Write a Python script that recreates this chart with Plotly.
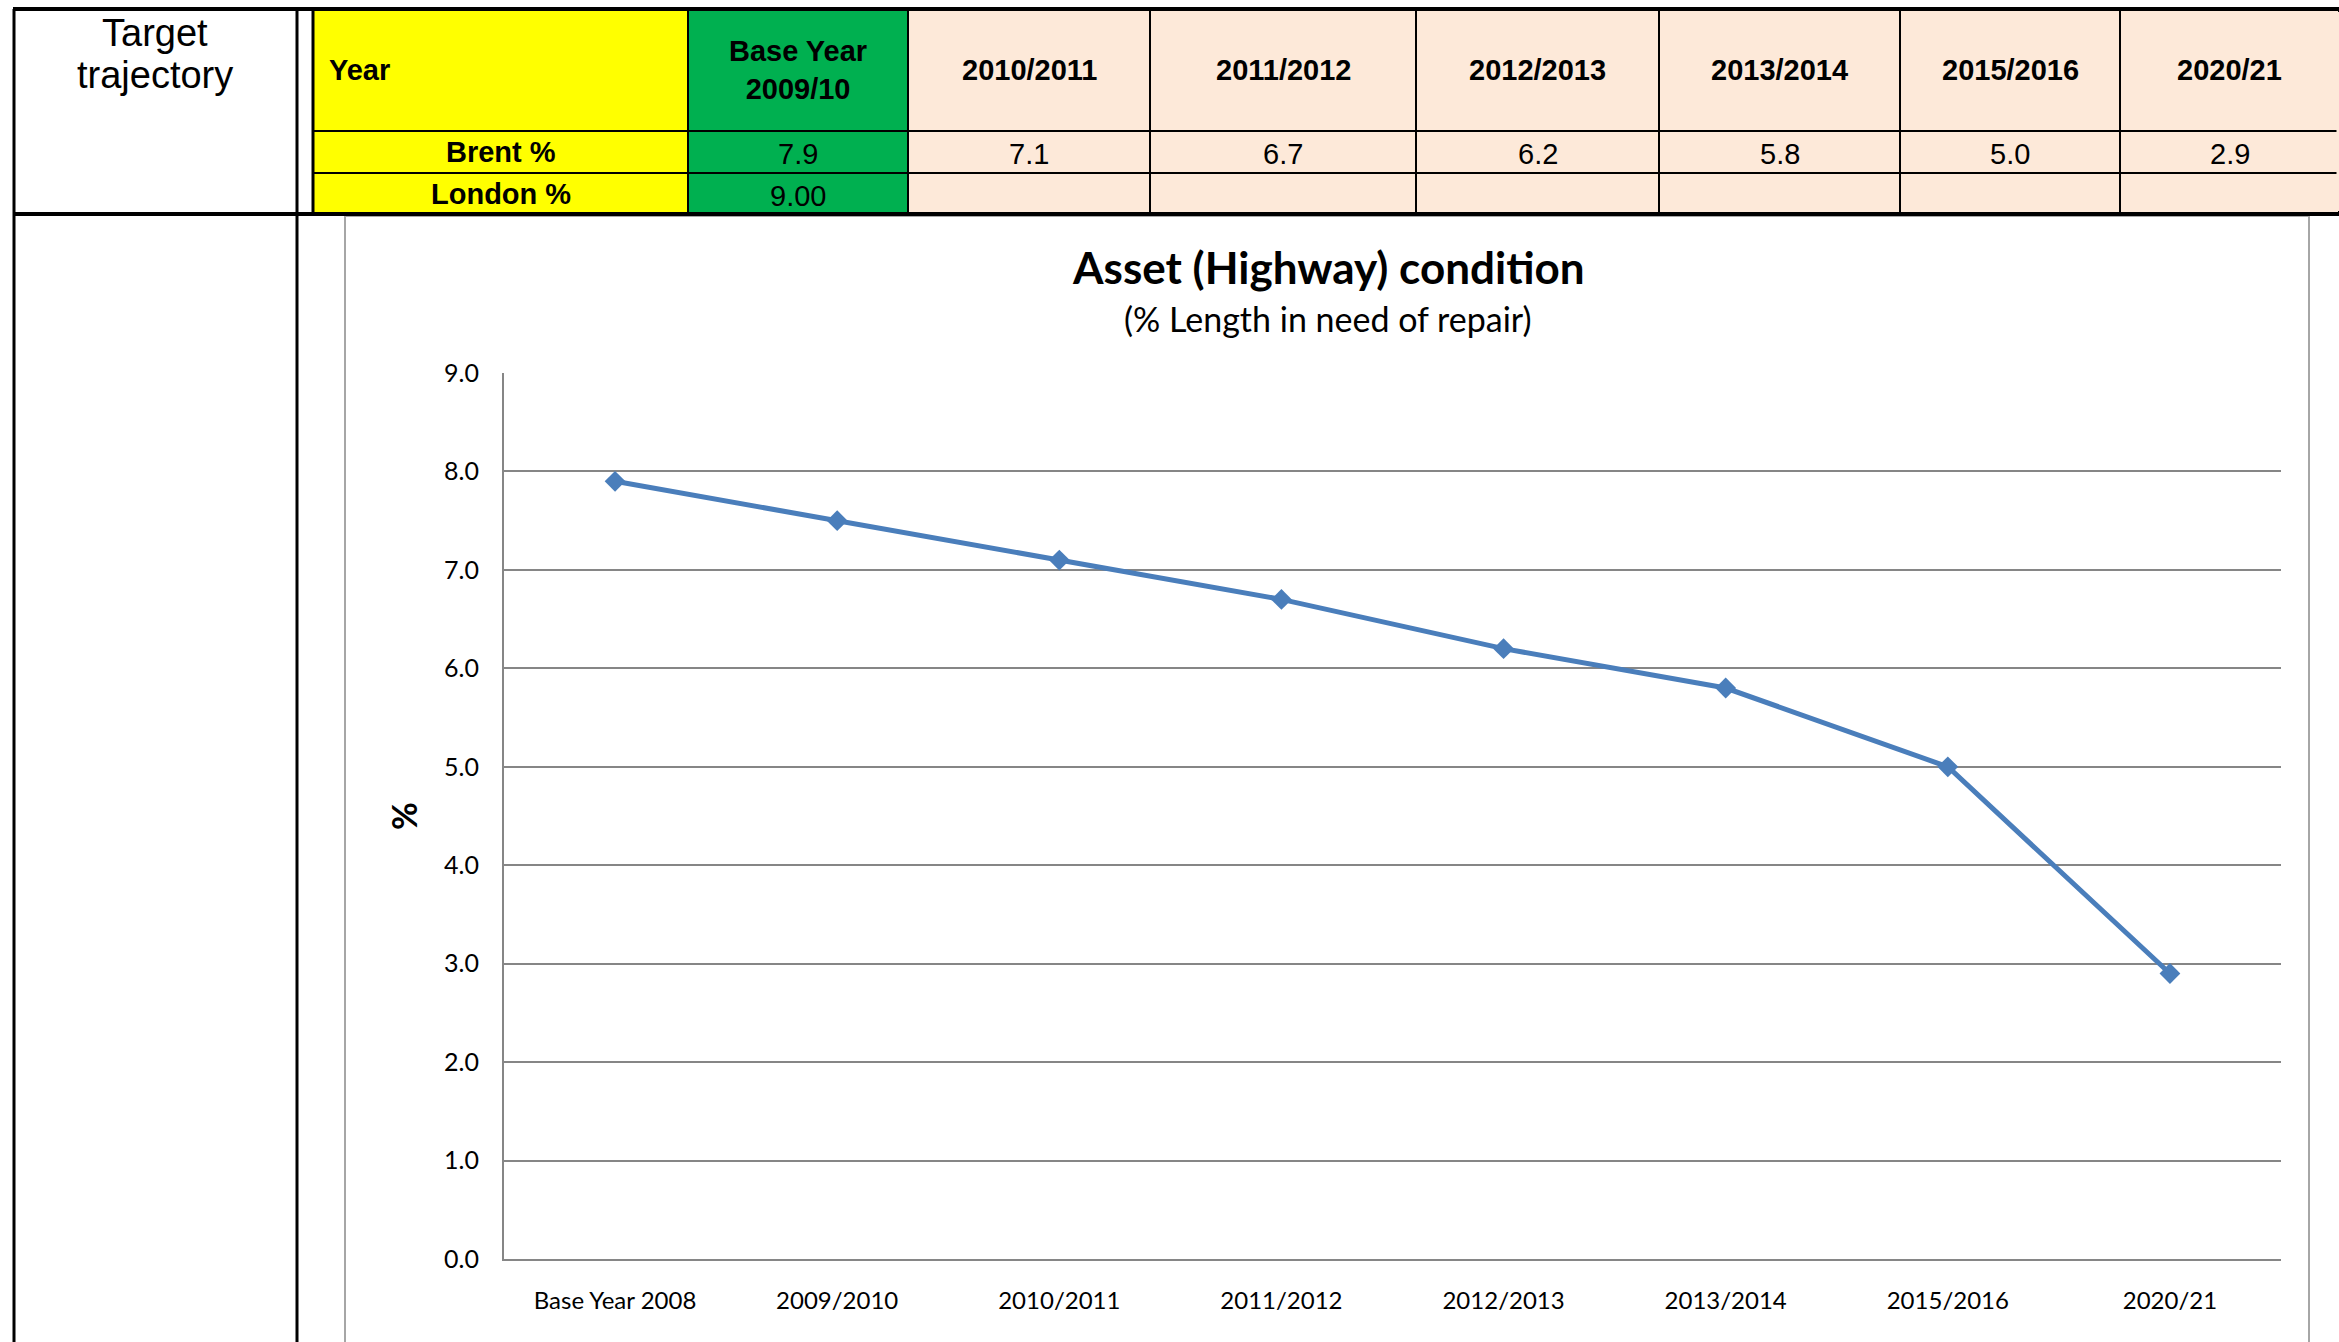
import plotly.graph_objects as go

# ---- data ----
chart_categories = ["Base Year 2008", "2009/2010", "2010/2011", "2011/2012",
                    "2012/2013", "2013/2014", "2015/2016", "2020/21"]
chart_values = [7.9, 7.5, 7.1, 6.7, 6.2, 5.8, 5.0, 2.9]

table_header = ["Year", "Base Year<br>2009/10", "2010/2011", "2011/2012", "2012/2013",
                "2013/2014", "2015/2016", "2020/21"]
brent_values = ["7.9", "7.1", "6.7", "6.2", "5.8", "5.0", "2.9"]
london_values = ["9.00", "", "", "", "", "", ""]
row_labels = ["Brent %", "London %"]
column_widths = [375, 220, 242, 266, 243, 241, 220, 219]

W, H = 2339, 1342
def px(x):
    return x / W
def py(y):
    return 1 - y / H

TABLE_FONT = "Liberation Sans, Arial, sans-serif"
CHART_FONT = "Lato, Calibri, sans-serif"
YELLOW = "#FFFF00"
GREEN = "#00B050"
PEACH = "#FDE9D9"

TABLE_X0, TABLE_TOP, HEADER_H, ROW_H = 313, 9, 122, 42

fig = go.Figure()

# ---- table (fills + borders) ----
fills = [YELLOW, GREEN] + [PEACH] * (len(table_header) - 2)
fig.add_trace(go.Table(
    domain=dict(x=[px(TABLE_X0), 1.0], y=[py(TABLE_TOP + HEADER_H + 2 * ROW_H), py(TABLE_TOP)]),
    columnwidth=column_widths,
    header=dict(values=[""] * len(table_header),
                fill_color=fills,
                line=dict(color="black", width=2),
                height=HEADER_H),
    cells=dict(values=[["", ""] for _ in table_header],
               fill_color=fills,
               line=dict(color="black", width=2),
               font=dict(family=TABLE_FONT, size=12, color="black"),
               height=ROW_H),
))

# ---- table texts, placed from the column widths ----
annotations = []
row_values = [brent_values, london_values]
x_left = TABLE_X0
for i, (lab, w) in enumerate(zip(table_header, column_widths)):
    xc = x_left + w / 2
    if i == 0:
        annotations.append(dict(text="<b>%s</b>" % lab, x=px(x_left + 14), xanchor="left",
                                y=py(TABLE_TOP + HEADER_H / 2), yanchor="middle",
                                xref="paper", yref="paper", showarrow=False,
                                font=dict(family=TABLE_FONT, size=29, color="black")))
        for r, rl in enumerate(row_labels):
            annotations.append(dict(text="<b>%s</b>" % rl, x=px(xc), xanchor="center",
                                    y=py(TABLE_TOP + HEADER_H + ROW_H * (r + 0.5)), yanchor="middle",
                                    xref="paper", yref="paper", showarrow=False,
                                    font=dict(family=TABLE_FONT, size=29, color="black")))
    else:
        annotations.append(dict(text="<b>%s</b>" % lab, x=px(xc), xanchor="center",
                                y=py(TABLE_TOP + HEADER_H / 2), yanchor="middle",
                                xref="paper", yref="paper", showarrow=False,
                                font=dict(family=TABLE_FONT, size=29, color="black")))
        for r, vals in enumerate(row_values):
            v = vals[i - 1]
            if v:
                annotations.append(dict(text=v, x=px(xc), xanchor="center",
                                        y=py(TABLE_TOP + HEADER_H + ROW_H * (r + 0.5) + 2),
                                        yanchor="middle",
                                        xref="paper", yref="paper", showarrow=False,
                                        font=dict(family=TABLE_FONT, size=29, color="black")))
    x_left += w

# ---- line chart ----
fig.add_trace(go.Scatter(
    x=chart_categories, y=chart_values, mode="lines+markers",
    line=dict(color="#4A7EBB", width=5),
    marker=dict(symbol="diamond", size=16, color="#4A7EBB"),
    showlegend=False, hoverinfo="x+y",
))

fig.update_layout(
    width=W, height=H,
    margin=dict(l=0, r=0, t=0, b=0, pad=0),
    paper_bgcolor="white", plot_bgcolor="white",
    showlegend=False,
    xaxis=dict(domain=[px(504), px(2281)], type="category", automargin=False,
               range=[-0.5, len(chart_categories) - 0.5],
               showgrid=False, showline=True, linecolor="#868686", linewidth=2,
               ticks="outside", ticklen=19, tickcolor="rgba(0,0,0,0)",
               tickfont=dict(family=CHART_FONT, size=24, color="black"),
               zeroline=False, fixedrange=True),
    yaxis=dict(domain=[py(1259), py(373)], range=[0, 9], dtick=1, automargin=False,
               tickformat=".1f",
               showgrid=True, gridcolor="#868686", gridwidth=2,
               showline=True, linecolor="#868686", linewidth=2,
               ticks="outside", ticklen=18, tickcolor="rgba(0,0,0,0)",
               tickfont=dict(family=CHART_FONT, size=25, color="black"),
               zeroline=False, fixedrange=True),
)

annotations += [
    dict(text="<b>Asset (Highway) condition</b>", x=px(1328), y=py(267), xref="paper", yref="paper",
         showarrow=False, xanchor="center", yanchor="middle",
         font=dict(family=CHART_FONT, size=44, color="black")),
    dict(text="(% Length in need of repair)", x=px(1328), y=py(319), xref="paper", yref="paper",
         showarrow=False, xanchor="center", yanchor="middle",
         font=dict(family=CHART_FONT, size=34, color="black")),
    dict(text="<b>%</b>", x=px(403), y=py(816), xref="paper", yref="paper",
         showarrow=False, xanchor="center", yanchor="middle", textangle=-90,
         font=dict(family=CHART_FONT, size=34, color="black")),
    dict(text="Target", x=px(155), y=py(33), xref="paper", yref="paper",
         showarrow=False, xanchor="center", yanchor="middle",
         font=dict(family=TABLE_FONT, size=38, color="black")),
    dict(text="trajectory", x=px(155), y=py(75), xref="paper", yref="paper",
         showarrow=False, xanchor="center", yanchor="middle",
         font=dict(family=TABLE_FONT, size=38, color="black")),
]
fig.update_layout(annotations=annotations)

# ---- frame lines (document chrome) ----
shapes = [
    dict(type="rect", xref="paper", yref="paper", x0=px(345), x1=px(2309), y0=py(1400), y1=py(216),
         line=dict(color="#A6A6A6", width=2), fillcolor="rgba(0,0,0,0)", layer="below"),
    dict(type="line", xref="paper", yref="paper", x0=1, x1=1, y0=py(12), y1=py(211),
         line=dict(color=PEACH, width=5)),
    dict(type="line", xref="paper", yref="paper", x0=px(13), x1=1, y0=py(9), y1=py(9),
         line=dict(color="black", width=4)),
    dict(type="line", xref="paper", yref="paper", x0=px(13), x1=1, y0=py(214), y1=py(214),
         line=dict(color="black", width=4)),
    dict(type="line", xref="paper", yref="paper", x0=px(14), x1=px(14), y0=py(9), y1=0,
         line=dict(color="black", width=3)),
    dict(type="line", xref="paper", yref="paper", x0=px(297), x1=px(297), y0=py(9), y1=0,
         line=dict(color="black", width=3)),
    dict(type="line", xref="paper", yref="paper", x0=px(313), x1=px(313), y0=py(9), y1=py(214),
         line=dict(color="black", width=3)),
]
fig.update_layout(shapes=shapes)

fig.write_html("out.html", config={"displayModeBar": False},
               post_script="document.body.style.margin='0';document.body.style.padding='0';")
